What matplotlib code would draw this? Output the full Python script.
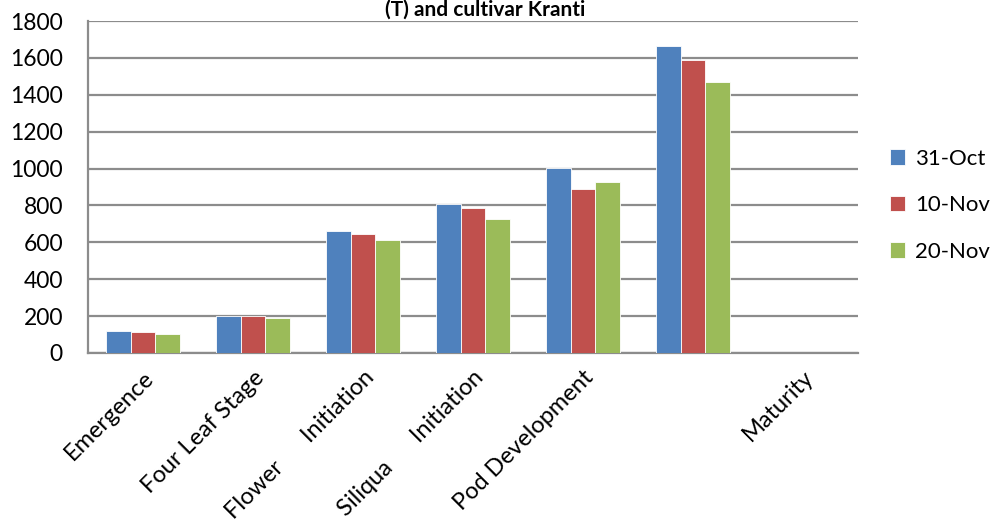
import matplotlib.pyplot as plt
import numpy as np

plt.rcParams['font.family'] = ['Lato', 'DejaVu Sans']

stages = ['Emergence', 'Four Leaf Stage', 'Flower      Initiation',
          'Siliqua      Initiation', 'Pod Development', '', 'Maturity']
oct31 = [118, 200, 660, 806, 1002, 1665, np.nan]
nov10 = [116, 203, 643, 788, 889, 1590, np.nan]
nov20 = [102, 190, 610, 726, 925, 1467, np.nan]
series = ['31-Oct', '10-Nov', '20-Nov']
colors = ['#4F81BD', '#C0504D', '#9BBB59']

fig = plt.figure(figsize=(9.92, 5.32), dpi=100)
ax = fig.add_axes([0.0887, 0.3365, 0.7762, 0.624])

x = np.arange(len(stages))
w = 0.222
for i, (vals, lab, c) in enumerate(zip([oct31, nov10, nov20], series, colors)):
    ax.bar(x + (i - 1) * w, vals, w, color=c, label=lab,
           edgecolor='white', linewidth=0.6, zorder=3)

ax.set_xlim(-0.5, len(stages) - 0.5)
ax.set_ylim(0, 1800)
ax.set_yticks(np.arange(0, 1801, 200))
ax.yaxis.grid(True, color='#8c8c8c', linewidth=1.6, zorder=0)
ax.set_axisbelow(True)
for s in ['top', 'right']:
    ax.spines[s].set_visible(False)
ax.spines['left'].set_color('#8c8c8c')
ax.spines['bottom'].set_color('#8c8c8c')
ax.spines['left'].set_linewidth(1.6)
ax.spines['bottom'].set_linewidth(1.6)
ax.tick_params(axis='y', length=0, labelsize=16.5, pad=18)
ax.tick_params(axis='x', length=0, pad=10)
ax.set_xticks(x)
ax.set_xticklabels(stages, rotation=45, ha='right', rotation_mode='anchor', fontsize=17)

fig.text(0.489, 0.982, '(T) and cultivar Kranti', ha='center', va='center',
         fontsize=15, fontweight='bold')

fig.legend(loc='center left', bbox_to_anchor=(0.897, 0.614), frameon=False,
           fontsize=16, handlelength=0.7, handleheight=0.7,
           labelspacing=1.2, handletextpad=0.45, borderpad=0, borderaxespad=0)

fig.savefig('out.png', dpi=100)
